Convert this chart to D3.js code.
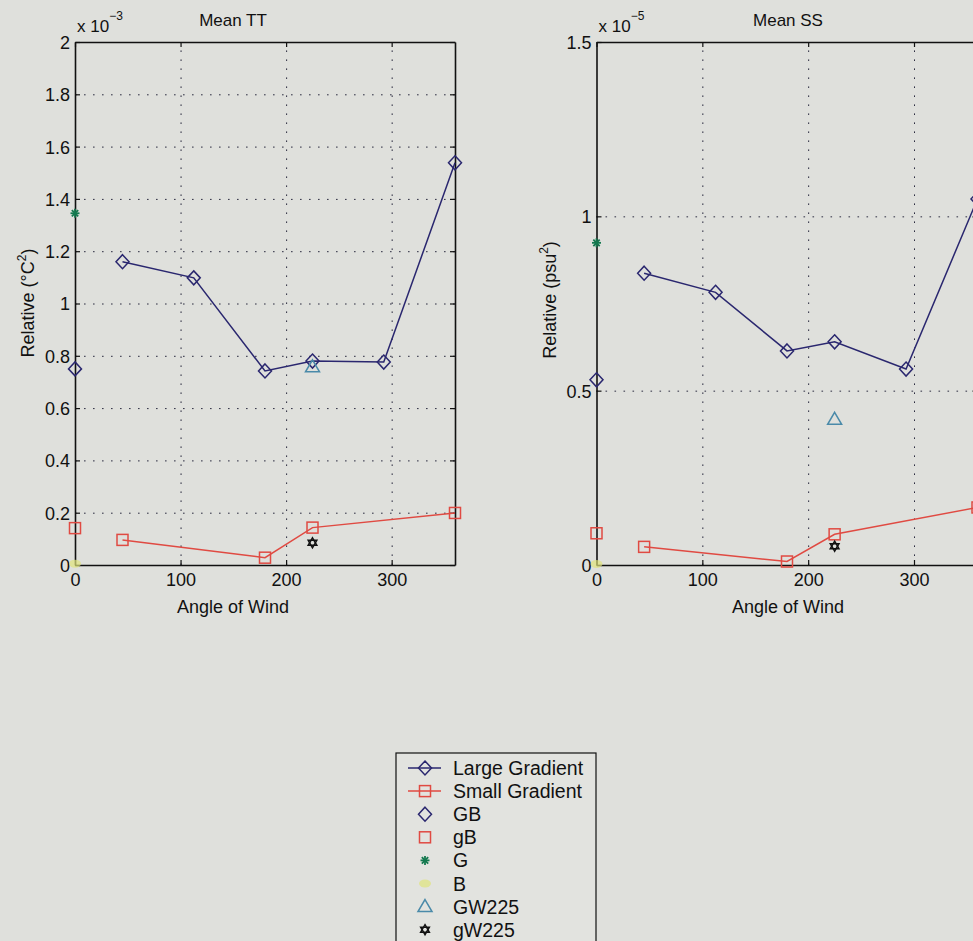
<!DOCTYPE html>
<html lang="en">
  <head>
    <meta charset="UTF-8" />
    <title>Mean TT / Mean SS</title>
    <script src="https://cdn.jsdelivr.net/npm/d3@7"></script>
    <style>
      html, body { margin: 0; padding: 0; background: #dfe0dc; }
      svg { display: block; font-family: "Liberation Sans", Arial, Helvetica, sans-serif; }
    </style>
  </head>
  <body>
    <script>
      // wind angles of the connected runs
      var largeAngles = [45, 112.5, 180, 225, 292.5, 360];
      var smallAngles = [45, 180, 225, 360];

      // Mean TT (x 10^-3)
      var largeTT = [1.16, 1.098, 0.742, 0.78, 0.776, 1.538];
      var smallTT = [0.096, 0.028, 0.143, 0.199];
      // single runs: GB, gB, G, B at 0 deg; GW225, gW225 at 225 deg
      var singlesTT = [0.75, 0.141, 1.345, 0.005, 0.758, 0.085];

      // Mean SS (x 10^-5)
      var largeSS = [0.837, 0.782, 0.614, 0.64, 0.562, 1.05];
      var smallSS = [0.052, 0.01, 0.088, 0.165];
      var singlesSS = [0.531, 0.091, 0.924, 0.003, 0.418, 0.054];

      var singleNames = ["GB", "gB", "G", "B", "GW225", "gW225"];
      var singleAngles = [0, 0, 0, 0, 225, 225];

      var xTicks = [0, 100, 200, 300];
      var yTicksTT = [0, 0.2, 0.4, 0.6, 0.8, 1, 1.2, 1.4, 1.6, 1.8, 2];
      var yTicksSS = [0, 0.5, 1, 1.5];

      var legendNames = ["Large Gradient", "Small Gradient", "GB", "gB", "G", "B", "GW225", "gW225"];

      var navy = "#2a276f", red = "#e04a42", green = "#14794f",
          yellow = "#dfe47c", teal = "#4a8aa9", black = "#111";

      var svg = d3.select("body").append("svg")
        .attr("width", 973).attr("height", 941);

      // marker drawing
      function marker(g, type, cx, cy) {
        var s;
        if (type == "diamond") {
          g.append("path")
            .attr("d", "M" + cx + "," + (cy - 7) + "L" + (cx + 6.5) + "," + cy + "L" + cx + "," + (cy + 7) + "L" + (cx - 6.5) + "," + cy + "Z")
            .attr("fill", "none").attr("stroke", navy).attr("stroke-width", 1.5);
        } else if (type == "square") {
          g.append("rect")
            .attr("x", cx - 5.5).attr("y", cy - 5.5).attr("width", 11).attr("height", 11)
            .attr("fill", "none").attr("stroke", red).attr("stroke-width", 1.5);
        } else if (type == "asterisk") {
          for (var k = 0; k < 4; k++) {
            var a = k * Math.PI / 4;
            g.append("line")
              .attr("x1", cx - 4.5 * Math.cos(a)).attr("y1", cy - 4.5 * Math.sin(a))
              .attr("x2", cx + 4.5 * Math.cos(a)).attr("y2", cy + 4.5 * Math.sin(a))
              .attr("stroke", green).attr("stroke-width", 1.8);
          }
        } else if (type == "blob") {
          g.append("ellipse")
            .attr("cx", cx).attr("cy", cy).attr("rx", 6).attr("ry", 4)
            .attr("fill", yellow).attr("opacity", 0.7);
        } else if (type == "triangle") {
          g.append("path")
            .attr("d", "M" + cx + "," + (cy - 7) + "L" + (cx + 7) + "," + (cy + 5) + "L" + (cx - 7) + "," + (cy + 5) + "Z")
            .attr("fill", "none").attr("stroke", teal).attr("stroke-width", 1.5);
        } else if (type == "hexagram") {
          s = 5;
          var t1 = [], t2 = [];
          for (var j = 0; j < 3; j++) {
            var a1 = -Math.PI / 2 + j * 2 * Math.PI / 3;
            var a2 = Math.PI / 2 + j * 2 * Math.PI / 3;
            t1.push([cx + s * Math.cos(a1), cy + s * Math.sin(a1)]);
            t2.push([cx + s * Math.cos(a2), cy + s * Math.sin(a2)]);
          }
          [t1, t2].forEach(function (t) {
            g.append("path").attr("d", "M" + t.join("L") + "Z")
              .attr("fill", "none").attr("stroke", black).attr("stroke-width", 1.5);
          });
        }
      }

      var singleTypes = ["diamond", "square", "asterisk", "blob", "triangle", "hexagram"];

      function drawPanel(o) {
        var x = d3.scaleLinear().domain([0, 360]).range([o.left, o.right]);
        var y = d3.scaleLinear().domain([0, o.ymax]).range([565, 42]);
        var g = svg.append("g");

        // dotted grid
        g.append("g").attr("transform", "translate(0,565)")
          .call(d3.axisBottom(x).tickValues(xTicks.slice(1)).tickSize(-523).tickFormat(""))
          .call(function (a) {
            a.select(".domain").remove();
            a.selectAll("line").attr("stroke", "#2c2c40").attr("stroke-dasharray", "1.6,7.4");
          });
        g.append("g").attr("transform", "translate(" + o.left + ",0)")
          .call(d3.axisLeft(y).tickValues(o.yTicks.slice(1, -1)).tickSize(-(o.right - o.left)).tickFormat(""))
          .call(function (a) {
            a.select(".domain").remove();
            a.selectAll("line").attr("stroke", "#2c2c40").attr("stroke-dasharray", "1.6,7.4");
          });

        // box with inward ticks
        var styleAxis = function (a) {
          a.select(".domain").attr("stroke", "#111").attr("stroke-width", 1.6);
          a.selectAll(".tick line").attr("stroke", "#111").attr("stroke-width", 1.2);
          a.selectAll("text").attr("fill", "#111").attr("font-size", 18);
        };
        g.append("g").attr("transform", "translate(0,565)")
          .call(d3.axisBottom(x).tickValues(xTicks).tickSizeInner(-5).tickSizeOuter(0).tickPadding(8))
          .call(styleAxis);
        g.append("g").attr("transform", "translate(0,42)")
          .call(d3.axisTop(x).tickValues(xTicks).tickSizeInner(-5).tickSizeOuter(0).tickFormat(""))
          .call(styleAxis);
        g.append("g").attr("transform", "translate(" + o.left + ",0)")
          .call(d3.axisLeft(y).tickValues(o.yTicks).tickSizeInner(-5).tickSizeOuter(0).tickPadding(5)
            .tickFormat(d3.format("~g")))
          .call(styleAxis)
          .selectAll("text").attr("dy", "0.36em");
        g.append("g").attr("transform", "translate(" + o.right + ",0)")
          .call(d3.axisRight(y).tickValues(o.yTicks).tickSizeInner(-5).tickSizeOuter(0).tickFormat(""))
          .call(styleAxis);

        // connected runs
        var line = d3.line().x(function (d) { return x(d[0]); }).y(function (d) { return y(d[1]); });
        var large = d3.zip(largeAngles, o.large);
        var small = d3.zip(smallAngles, o.small);
        g.append("path").attr("d", line(large)).attr("fill", "none").attr("stroke", navy).attr("stroke-width", 1.5);
        g.append("path").attr("d", line(small)).attr("fill", "none").attr("stroke", red).attr("stroke-width", 1.5);
        large.forEach(function (d) { marker(g, "diamond", x(d[0]), y(d[1])); });
        small.forEach(function (d) { marker(g, "square", x(d[0]), y(d[1])); });

        // single runs
        o.singles.forEach(function (v, i) {
          marker(g, singleTypes[i], x(singleAngles[i]), y(v));
        });

        // labels
        g.append("text").attr("x", o.titleX).attr("y", 26).attr("text-anchor", "middle")
          .attr("font-size", 17).attr("fill", "#111").text(o.title);
        g.append("text").attr("x", o.titleX).attr("y", 613).attr("text-anchor", "middle")
          .attr("font-size", 18).attr("fill", "#111").text("Angle of Wind");
        var ex = g.append("text").attr("x", o.left + 2).attr("y", 32).attr("font-size", 17).attr("fill", "#111");
        ex.append("tspan").text("x 10");
        ex.append("tspan").attr("dy", -12).attr("font-size", 12).text("\u2212" + o.exp);
        var yl = g.append("text")
          .attr("transform", "translate(" + (o.left - 41) + "," + o.labelY + ") rotate(-90)")
          .attr("text-anchor", "middle").attr("font-size", 18).attr("fill", "#111");
        yl.append("tspan").text("Relative (" + o.unitPre);
        yl.append("tspan").attr("dy", -8).attr("font-size", 12).text("2");
        yl.append("tspan").attr("dy", 8).text(")");
      }

      drawPanel({
        left: 75, right: 455, ymax: 2, yTicks: yTicksTT,
        large: largeTT, small: smallTT, singles: singlesTT,
        title: "Mean TT", titleX: 233, exp: 3, unitPre: "\u00b0C", labelY: 303
      });
      drawPanel({
        left: 596.5, right: 977.5, ymax: 1.5, yTicks: yTicksSS,
        large: largeSS, small: smallSS, singles: singlesSS,
        title: "Mean SS", titleX: 788, exp: 5, unitPre: "psu", labelY: 300
      });

      // legend
      var lg = svg.append("g");
      lg.append("rect").attr("x", 396).attr("y", 753).attr("width", 200).attr("height", 200)
        .attr("fill", "#e2e3df").attr("stroke", "#111").attr("stroke-width", 1.2);
      var legendTypes = ["diamond", "square"].concat(singleTypes);
      legendNames.forEach(function (name, i) {
        var cy = 768 + i * 23.1;
        if (i < 2) {
          lg.append("line").attr("x1", 408).attr("x2", 441).attr("y1", cy).attr("y2", cy)
            .attr("stroke", i == 0 ? navy : red).attr("stroke-width", 1.5);
        }
        marker(lg, legendTypes[i], 425, cy);
        lg.append("text").attr("x", 453).attr("y", cy).attr("dy", "0.36em")
          .attr("font-size", 19.5).attr("fill", "#111").text(name);
      });
    </script>
  </body>
</html>
